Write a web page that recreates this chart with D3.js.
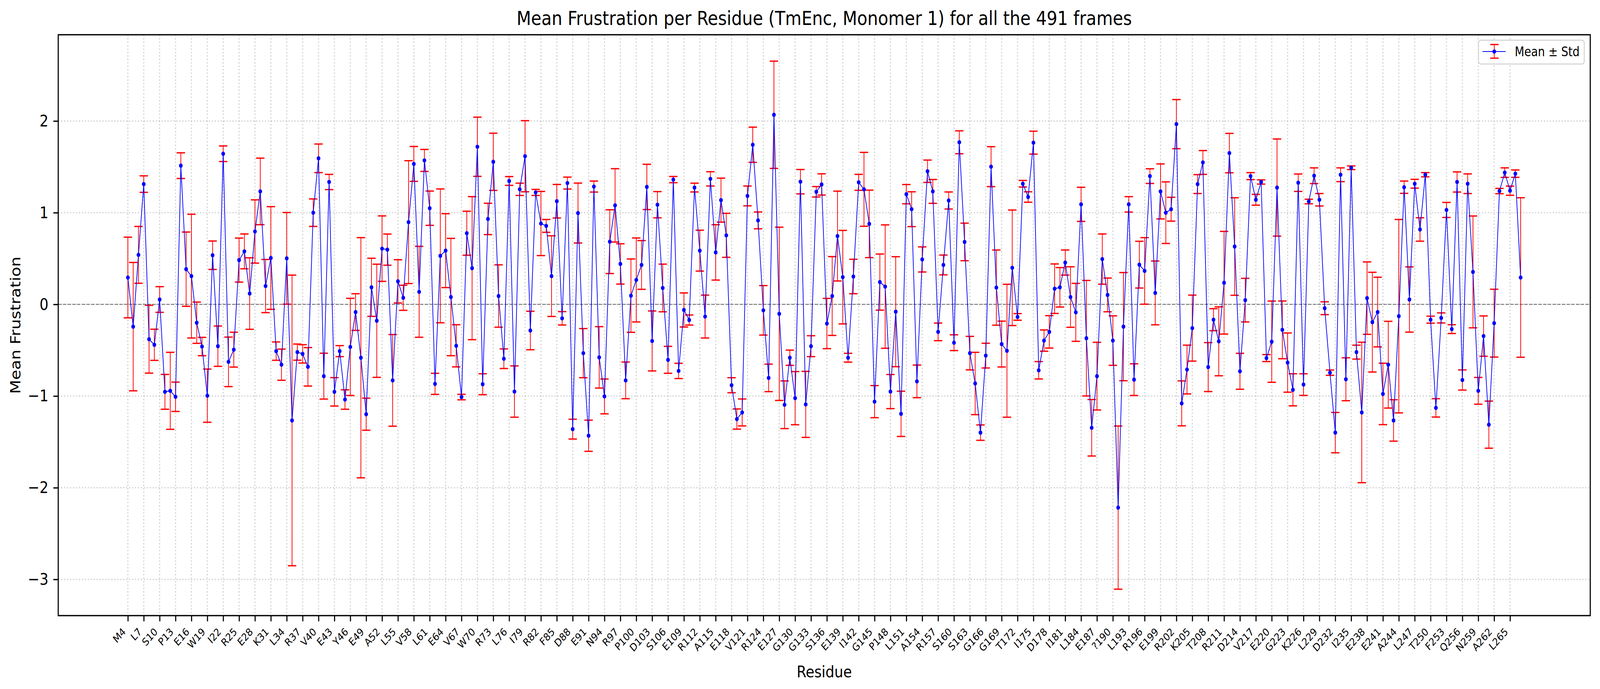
<!DOCTYPE html>
<html>
<head>
<meta charset="utf-8">
<script src="https://cdn.jsdelivr.net/npm/d3@7"></script>
<style>
html, body { margin: 0; padding: 0; width: 100%; height: 100%; overflow: hidden; background: #fff; }
text { font-family: "DejaVu Sans", sans-serif; }
</style>
</head>
<body>
<div id="chart"></div>
<script>
var chartTitle = 'Mean Frustration per Residue (TmEnc, Monomer 1) for all the 491 frames';
var xLabel = 'Residue';
var yLabel = 'Mean Frustration';
var legendLabel = 'Mean \u00b1 Std';

// one label every 3rd residue (M4, L7, ... L265)
var tickLabels = ['M4','L7','S10','P13','E16','W19','I22','R25','E28','K31','L34','R37','V40','E43','Y46',
    'E49','A52','L55','V58','L61','E64','V67','W70','R73','L76','I79','R82','F85','D88','E91','N94','R97',
    'P100','D103','S106','E109','R112','A115','E118','V121','R124','E127','G130','G133','S136','E139',
    'I142','G145','P148','L151','A154','R157','S160','S163','G166','G169','T172','I175','D178','I181',
    'L184','E187','?190','L193','R196','E199','R202','K205','T208','R211','D214','V217','E220','G223',
    'K226','L229','D232','I235','E238','E241','A244','L247','T250','F253','Q256','N259','A262','L265'];

var yTicks = [-3, -2, -1, 0, 1, 2];

var means = [
    0.293, -0.243, 0.54, 1.312, -0.38, -0.441, 0.053, -0.954, -0.943, -1.008,
    1.513, 0.384, 0.308, -0.2, -0.46, -0.996, 0.536, -0.456, 1.643, -0.627,
    -0.494, 0.483, 0.578, 0.118, 0.795, 1.232, 0.2, 0.506, -0.51, -0.658,
    0.502, -1.266, -0.521, -0.54, -0.681, 1.0, 1.593, -0.783, 1.335, -0.954,
    -0.51, -1.038, -0.464, -0.084, -0.582, -1.198, 0.186, -0.179, 0.608, 0.597,
    -0.829, 0.251, 0.072, 0.897, 1.532, 0.137, 1.57, 1.049, -0.867, 0.529,
    0.586, 0.08, -0.452, -1.011, 0.776, 0.395, 1.719, -0.871, 0.932, 1.555,
    0.091, -0.593, 1.346, -0.951, 1.255, 1.616, -0.285, 1.221, 0.882, 0.856,
    0.308, 1.125, -0.152, 1.323, -1.361, 0.996, -0.532, -1.433, 1.285, -0.578,
    -1.004, 0.684, 1.08, 0.441, -0.829, 0.095, 0.266, 0.43, 1.281, -0.399,
    1.087, 0.179, -0.605, 1.361, -0.726, -0.061, -0.171, 1.274, 0.586, -0.133,
    1.369, 0.567, 1.137, 0.753, -0.882, -1.251, -1.179, 1.183, 1.741, 0.916,
    -0.065, -0.802, 2.068, -0.103, -1.095, -0.582, -1.023, 1.338, -1.091, -0.456,
    1.228, 1.308, -0.209, 0.091, 0.745, 0.297, -0.582, 0.304, 1.331, 1.255,
    0.878, -1.061, 0.243, 0.194, -0.951, -0.08, -1.194, 1.202, 1.038, -0.84,
    0.49, 1.452, 1.232, -0.3, 0.43, 1.133, -0.418, 1.768, 0.681, -0.532,
    -0.863, -1.399, -0.559, 1.502, 0.183, -0.433, -0.506, 0.399, -0.137, 1.316,
    1.171, 1.764, -0.719, -0.395, -0.3, 0.171, 0.186, 0.456, 0.08, -0.087,
    1.091, -0.369, -1.346, -0.783, 0.494, 0.103, -0.395, -2.217, -0.243, 1.091,
    -0.821, 0.433, 0.365, 1.399, 0.125, 1.232, 1.0, 1.038, 1.966, -1.08,
    -0.711, -0.259, 1.312, 1.548, -0.684, -0.167, -0.403, 0.236, 1.65, 0.631,
    -0.73, 0.046, 1.399, 1.141, 1.335, -0.586, -0.407, 1.274, -0.278, -0.635,
    -0.932, 1.327, -0.875, 1.122, 1.403, 1.141, -0.042, -0.745, -1.399, 1.414,
    -0.817, 1.49, -0.521, -1.179, 0.068, -0.194, -0.084, -0.977, -0.658, -1.266,
    -0.129, 1.278, 0.053, 1.316, 0.817, 1.414, -0.167, -1.129, -0.148, 1.03,
    -0.27, 1.335, -0.825, 1.316, 0.354, -0.943, -0.346, -1.312, -0.205, 1.236,
    1.437, 1.24, 1.426, 0.293
];

var stds = [
    0.44, 0.70, 0.31, 0.09, 0.37, 0.17, 0.14, 0.19, 0.42, 0.16,
    0.14, 0.405, 0.675, 0.225, 0.10, 0.29, 0.155, 0.22, 0.085, 0.27,
    0.19, 0.24, 0.19, 0.39, 0.345, 0.363, 0.29, 0.56, 0.10, 0.17,
    0.50, 1.585, 0.088, 0.10, 0.21, 0.15, 0.156, 0.25, 0.083, 0.155,
    0.06, 0.106, 0.53, 0.20, 1.31, 0.175, 0.317, 0.617, 0.357, 0.17,
    0.50, 0.236, 0.137, 0.67, 0.19, 0.496, 0.12, 0.187, 0.115, 0.73,
    0.403, 0.64, 0.23, 0.03, 0.24, 0.78, 0.323, 0.114, 0.171, 0.312,
    0.34, 0.107, 0.048, 0.28, 0.067, 0.388, 0.21, 0.033, 0.35, 0.07,
    0.44, 0.183, 0.073, 0.065, 0.108, 0.327, 0.268, 0.17, 0.06, 0.335,
    0.19, 0.348, 0.40, 0.22, 0.20, 0.40, 0.458, 0.266, 0.247, 0.327,
    0.143, 0.26, 0.147, 0.034, 0.083, 0.186, 0.055, 0.048, 0.223, 0.234,
    0.078, 0.302, 0.24, 0.24, 0.082, 0.11, 0.147, 0.108, 0.192, 0.092,
    0.27, 0.15, 0.585, 0.945, 0.26, 0.083, 0.29, 0.133, 0.36, 0.114,
    0.057, 0.116, 0.274, 0.43, 0.49, 0.51, 0.048, 0.188, 0.087, 0.403,
    0.368, 0.175, 0.306, 0.673, 0.186, 0.60, 0.247, 0.105, 0.19, 0.178,
    0.137, 0.122, 0.13, 0.096, 0.108, 0.093, 0.086, 0.125, 0.205, 0.183,
    0.34, 0.084, 0.135, 0.218, 0.41, 0.25, 0.725, 0.63, 0.036, 0.036,
    0.057, 0.125, 0.095, 0.116, 0.177, 0.27, 0.215, 0.137, 0.33, 0.316,
    0.186, 0.63, 0.308, 0.369, 0.274, 0.184, 0.27, 0.89, 0.59, 0.084,
    0.173, 0.255, 0.363, 0.08, 0.348, 0.30, 0.336, 0.13, 0.268, 0.245,
    0.266, 0.36, 0.103, 0.13, 0.267, 0.12, 0.376, 0.56, 0.215, 0.532,
    0.196, 0.238, 0.038, 0.059, 0.023, 0.038, 0.443, 0.53, 0.315, 0.323,
    0.175, 0.095, 0.118, 0.025, 0.086, 0.068, 0.07, 0.029, 0.22, 0.075,
    0.234, 0.02, 0.076, 0.766, 0.395, 0.544, 0.38, 0.335, 0.473, 0.226,
    1.055, 0.067, 0.356, 0.048, 0.128, 0.023, 0.038, 0.10, 0.055, 0.082,
    0.048, 0.11, 0.11, 0.107, 0.61, 0.146, 0.22, 0.257, 0.37, 0.029,
    0.052, 0.05, 0.04, 0.87
];

var W = 4767, H = 1765;
var plot = {left: 173.5, right: 4738, top: 89, bottom: 1577};
var n = means.length;

// drawn in a fixed 4767x1765 box, scaled to fill the window
var svg = d3.select('#chart').append('svg')
    .attr('viewBox', '0 0 ' + W + ' ' + H)
    .attr('preserveAspectRatio', 'none')
    .style('width', '100vw').style('height', '100vh')
    .style('display', 'block');
svg.append('rect').attr('width', W).attr('height', H).attr('fill', '#fff');

var x = d3.scaleLinear()
    .domain([-0.05 * (n - 1), 1.05 * (n - 1)])
    .range([plot.left, plot.right]);

var lo = d3.min(means, function(m, i) { return m - stds[i]; });
var hi = d3.max(means, function(m, i) { return m + stds[i]; });
var padY = (hi - lo) * 0.05;
var y = d3.scaleLinear()
    .domain([lo - padY, hi + padY])
    .range([plot.bottom, plot.top]);

var tickIdx = tickLabels.map(function(d, i) { return i * 3; });

// grid
var grid = svg.append('g');
grid.selectAll('.vg').data(tickIdx).enter().append('line')
    .attr('x1', function(d) { return x(d); }).attr('x2', function(d) { return x(d); })
    .attr('y1', plot.top).attr('y2', plot.bottom);
grid.selectAll('.hg').data(yTicks).enter().append('line')
    .attr('x1', plot.left).attr('x2', plot.right)
    .attr('y1', function(d) { return y(d); }).attr('y2', function(d) { return y(d); });
grid.selectAll('line')
    .attr('stroke', '#b0b0b0').attr('stroke-opacity', 0.6)
    .attr('stroke-width', 3.3).attr('stroke-dasharray', '3.3,5.5');

// zero line
svg.append('line')
    .attr('x1', plot.left).attr('x2', plot.right)
    .attr('y1', y(0)).attr('y2', y(0))
    .attr('stroke', '#808080').attr('stroke-width', 2.5)
    .attr('stroke-dasharray', '10,4');

// error bars
var eb = svg.append('g').attr('stroke', '#ff0000');
var bars = eb.selectAll('g').data(means).enter().append('g');
bars.append('line')
    .attr('x1', function(d, i) { return x(i); }).attr('x2', function(d, i) { return x(i); })
    .attr('y1', function(d, i) { return y(d - stds[i]); })
    .attr('y2', function(d, i) { return y(d + stds[i]); })
    .attr('stroke-width', 2.2);
[-1, 1].forEach(function(s) {
    bars.append('line')
        .attr('x1', function(d, i) { return x(i) - 12.5; })
        .attr('x2', function(d, i) { return x(i) + 12.5; })
        .attr('y1', function(d, i) { return y(d + s * stds[i]); })
        .attr('y2', function(d, i) { return y(d + s * stds[i]); })
        .attr('stroke-width', 3.3);
});

// mean line + markers
var line = d3.line()
    .x(function(d, i) { return x(i); })
    .y(function(d) { return y(d); });
svg.append('path').datum(means)
    .attr('d', line)
    .attr('fill', 'none').attr('stroke', '#0000ff').attr('stroke-width', 2.1);
svg.append('g').selectAll('circle').data(means).enter().append('circle')
    .attr('cx', function(d, i) { return x(i); })
    .attr('cy', function(d) { return y(d); })
    .attr('r', 5.5).attr('fill', '#0000ff');

// axes
var xAxis = svg.append('g')
    .attr('transform', 'translate(0,' + plot.bottom + ')')
    .call(d3.axisBottom(x).tickValues(tickIdx)
        .tickFormat(function(d) { return tickLabels[d / 3]; })
        .tickSize(14.6).tickPadding(0));
xAxis.select('.domain').remove();
xAxis.selectAll('.tick line').attr('stroke', '#000').attr('stroke-width', 3.3);
xAxis.selectAll('.tick text')
    .attr('font-size', 27)
    .attr('fill', '#000')
    .attr('text-anchor', 'end')
    .attr('dy', null)
    .attr('y', null)
    .attr('transform', 'translate(-5,43) rotate(-45)');

var yAxis = svg.append('g')
    .attr('transform', 'translate(' + plot.left + ',0)')
    .call(d3.axisLeft(y).tickValues(yTicks)
        .tickFormat(function(d) { return d < 0 ? '\u2212' + Math.abs(d) : String(d); })
        .tickSize(14.6).tickPadding(14.6));
yAxis.select('.domain').remove();
yAxis.selectAll('.tick line').attr('stroke', '#000').attr('stroke-width', 3.3);
yAxis.selectAll('.tick text').attr('font-size', 41.7).attr('fill', '#000');

// frame
svg.append('rect')
    .attr('x', plot.left).attr('y', plot.top)
    .attr('width', plot.right - plot.left).attr('height', plot.bottom - plot.top)
    .attr('fill', 'none').attr('stroke', '#000').attr('stroke-width', 3.3);

// labels
svg.append('text')
    .attr('x', (plot.left + plot.right) / 2).attr('y', 64)
    .attr('text-anchor', 'middle').attr('font-size', 50)
    .text(chartTitle);
svg.append('text')
    .attr('x', (plot.left + plot.right) / 2).attr('y', 1735)
    .attr('text-anchor', 'middle').attr('font-size', 41.7)
    .text(xLabel);
svg.append('text')
    .attr('transform', 'translate(60,' + (plot.top + plot.bottom) / 2 + ') rotate(-90)')
    .attr('text-anchor', 'middle').attr('font-size', 41.7)
    .text(yLabel);

// legend
var lg = svg.append('g').attr('transform', 'translate(4405,103)');
lg.append('rect').attr('width', 315).attr('height', 61).attr('rx', 7)
    .attr('fill', '#fff').attr('fill-opacity', 0.8)
    .attr('stroke', '#d6d6d6').attr('stroke-width', 3);
lg.append('line').attr('x1', 12).attr('x2', 81).attr('y1', 29).attr('y2', 29)
    .attr('stroke', '#0000ff').attr('stroke-width', 2.1);
lg.append('line').attr('x1', 47).attr('x2', 47).attr('y1', 11).attr('y2', 46)
    .attr('stroke', '#ff0000').attr('stroke-width', 2.2);
[11, 46].forEach(function(cy) {
    lg.append('line').attr('x1', 35).attr('x2', 60).attr('y1', cy).attr('y2', cy)
        .attr('stroke', '#ff0000').attr('stroke-width', 3.3);
});
lg.append('circle').attr('cx', 47).attr('cy', 29).attr('r', 5.5).attr('fill', '#0000ff');
lg.append('text').attr('x', 108).attr('y', 41).attr('font-size', 33)
    .text(legendLabel);
</script>
</body>
</html>
